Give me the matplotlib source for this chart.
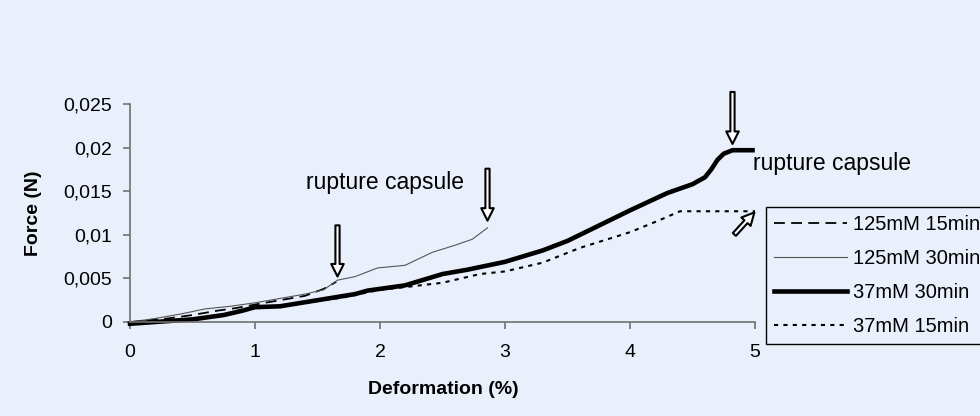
import matplotlib
matplotlib.use("Agg")
import matplotlib.pyplot as plt

plt.rcParams['font.family'] = ['Liberation Sans', 'DejaVu Sans']

BG = '#EAF0FB'

# Data
x_125_15 = [0, 0.3, 0.5, 0.7, 0.85, 1.0, 1.2, 1.4, 1.55, 1.65]
y_125_15 = [0, 0.0004, 0.0008, 0.0013, 0.0016, 0.0020, 0.0025, 0.0030, 0.0038, 0.0046]

x_125_30 = [0, 0.2, 0.4, 0.6, 0.8, 1.0, 1.2, 1.4, 1.55, 1.66, 1.8, 1.98, 2.2, 2.42, 2.6, 2.74, 2.86]
y_125_30 = [0, 0.0004, 0.0009, 0.0015, 0.0018, 0.0022, 0.0027, 0.0032, 0.0037, 0.0048, 0.0052, 0.0062, 0.0065, 0.0080, 0.0088, 0.0095, 0.0108]

x_37_30 = [0, 0.3, 0.5, 0.75, 0.9, 1.0, 1.2, 1.5, 1.8, 1.9, 2.2, 2.5, 2.7, 3.0, 3.3, 3.5, 3.7, 4.0, 4.3, 4.5, 4.6, 4.65, 4.7, 4.75, 4.82, 4.98]
y_37_30 = [-0.0002, 0.0001, 0.0003, 0.0008, 0.0013, 0.0017, 0.0018, 0.0025, 0.0032, 0.0036, 0.0042, 0.0055, 0.0060, 0.0069, 0.0082, 0.0093, 0.0107, 0.0128, 0.0148, 0.0158, 0.0166, 0.0175, 0.0186, 0.0193, 0.0197, 0.0197]

x_37_15 = [0, 0.5, 0.8, 1.0, 1.3, 1.7, 2.0, 2.2, 2.5, 2.8, 3.0, 3.3, 3.6, 4.0, 4.24, 4.4, 5.0]
y_37_15 = [-0.0002, 0.0003, 0.0010, 0.0017, 0.0020, 0.0028, 0.0037, 0.0040, 0.0045, 0.0055, 0.0058, 0.0068, 0.0085, 0.0103, 0.0117, 0.0127, 0.0127]

labels = ['125mM 15min', '125mM 30min', '37mM 30min', '37mM 15min']
x_ticks = [0, 1, 2, 3, 4, 5]
y_ticks = [0, 0.005, 0.01, 0.015, 0.02, 0.025]
y_ticklabels = ['0', '0,005', '0,01', '0,015', '0,02', '0,025']

fig = plt.figure(figsize=(9.8, 4.16), dpi=100, facecolor=BG)
ax = fig.add_axes([130/980, 1-322/416, 625/980, 218/416])
ax.set_facecolor(BG)

l1, = ax.plot(x_125_15, y_125_15, color='black', lw=1.3, ls=(0, (6, 3.5)), clip_on=False)
l2, = ax.plot(x_125_30, y_125_30, color='#555555', lw=0.8, clip_on=False)
l3, = ax.plot(x_37_30, y_37_30, color='black', lw=3.3, clip_on=False)
l4, = ax.plot(x_37_15, y_37_15, color='black', lw=1.5, ls=(0, (2, 2.5)), clip_on=False)

ax.set_xlim(0, 5)
ax.set_ylim(0, 0.025)
ax.set_xticks(x_ticks)
ax.set_xticklabels([str(t) for t in x_ticks])
ax.set_yticks(y_ticks)
ax.set_yticklabels(y_ticklabels)
for s in ['top', 'right']:
    ax.spines[s].set_visible(False)
for s in ['left', 'bottom']:
    ax.spines[s].set_color('#707070')
    ax.spines[s].set_linewidth(1.2)
ax.tick_params(axis='both', colors='#707070', labelcolor='black', labelsize=14, length=5, width=1.2)
ax.tick_params(axis='x', pad=11)
ax.tick_params(axis='y', pad=8)

fig.text(443/980, 1-390/416, 'Deformation (%)', fontsize=14, fontweight='bold', ha='center', va='center')
fig.text(33/980, 1-213/416, 'Force (N)', fontsize=14, fontweight='bold', ha='center', va='center', rotation=90)

arrow_kw = dict(arrowstyle='simple,head_width=0.9,head_length=0.9,tail_width=0.3',
                fc='white', ec='black', lw=1.5)
ax.annotate('', xy=(1.66, 0.0049), xytext=(1.66, 0.0114), arrowprops=arrow_kw, annotation_clip=False)
ax.annotate('', xy=(2.86, 0.0113), xytext=(2.86, 0.0179), arrowprops=arrow_kw, annotation_clip=False)
ax.annotate('', xy=(4.82, 0.0201), xytext=(4.82, 0.0267), arrowprops=arrow_kw, annotation_clip=False)
ax.annotate('', xy=(5.01, 0.0128), xytext=(4.82, 0.0098), arrowprops=arrow_kw, annotation_clip=False)

ax.text(1.41, 0.0160, 'rupture capsule', fontsize=16.5, va='center', ha='left')
ax.text(4.98, 0.0182, 'rupture capsule', fontsize=16.5, va='center', ha='left')

leg = fig.legend([l1, l2, l3, l4], labels, loc='upper left',
                 bbox_to_anchor=(766/980, 1-207/416), frameon=True, fancybox=False,
                 edgecolor='black', facecolor=BG, framealpha=1, fontsize=14.5,
                 handlelength=3.6, labelspacing=0.75, handletextpad=0.3,
                 borderpad=0.4, borderaxespad=0)
leg.get_frame().set_linewidth(1.0)

fig.savefig('out.png', dpi=100, facecolor=BG)
